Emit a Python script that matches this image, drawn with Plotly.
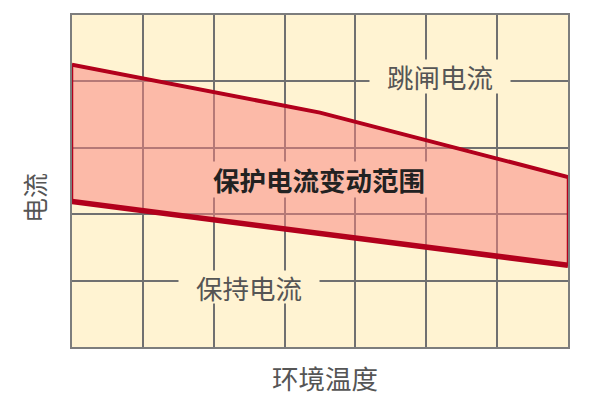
import plotly.graph_objects as go

# data (x: ambient temperature units, y: current units)
upper_x = [0, 3.5, 7]
upper_y = [4.25, 3.53, 2.56]
lower_x = [0, 7]
lower_y = [2.19, 1.23]

label_trip = "跳闸电流"
label_hold = "保持电流"
label_range = "保护电流变动范围"
x_title = "环境温度"
y_title = "电流"

RED = "rgb(178,0,28)"
CREAM = "rgb(255,243,210)"
PINK = "rgb(252,186,168)"
FONT = "Noto Sans CJK SC"

fig = go.Figure()

poly_x = upper_x + lower_x[::-1] + [upper_x[0]]
poly_y = upper_y + lower_y[::-1] + [upper_y[0]]
fig.add_trace(go.Scatter(x=poly_x, y=poly_y, mode="lines", fill="toself",
                         fillcolor="rgba(249,129,126,0.5)",
                         line=dict(color=RED, width=2.5), hoverinfo="skip"))
fig.add_trace(go.Scatter(x=upper_x, y=upper_y, mode="lines",
                         line=dict(color=RED, width=4), hoverinfo="skip"))
fig.add_trace(go.Scatter(x=lower_x, y=lower_y, mode="lines",
                         line=dict(color=RED, width=5.5), hoverinfo="skip"))

fig.update_layout(
    width=592, height=392,
    margin=dict(l=64, r=32, t=5, b=53),
    paper_bgcolor="white", plot_bgcolor=CREAM,
    showlegend=False,
    font=dict(family=FONT),
)
axis_common = dict(showticklabels=False, ticks="", zeroline=False,
                   showgrid=True, gridcolor="rgb(112,112,112)", gridwidth=1.5,
                   showline=True, linecolor="rgb(125,125,125)", linewidth=2,
                   mirror=True, layer="below traces", dtick=1, tick0=0)
fig.update_xaxes(range=[0, 7], **axis_common)
fig.update_yaxes(range=[0, 5], **axis_common)

fig.add_annotation(x=5.2, y=4.07, xref="x", yref="y", text=label_trip,
                   showarrow=False, bgcolor=CREAM, width=140, height=33, borderpad=0,
                   font=dict(size=26.5, color="rgb(85,85,85)", family=FONT))
fig.add_annotation(x=2.5, y=0.91, xref="x", yref="y", text=label_hold,
                   showarrow=False, bgcolor=CREAM, width=140, height=32, borderpad=0,
                   font=dict(size=26.5, color="rgb(85,85,85)", family=FONT))
fig.add_annotation(x=3.48, y=2.53, xref="x", yref="y", text="<b>" + label_range + "</b>",
                   showarrow=False, bgcolor=PINK, width=250, height=35, borderpad=0,
                   font=dict(size=26.5, color="rgb(34,34,34)", family=FONT))
fig.add_annotation(x=0.511, y=0, xref="paper", yref="paper", text=x_title,
                   showarrow=False, yanchor="middle", yshift=-30,
                   font=dict(size=26.5, color="rgb(85,85,85)", family=FONT))
fig.add_annotation(x=0, y=0.449, xref="paper", yref="paper", text=y_title,
                   showarrow=False, textangle=-90, xanchor="center", xshift=-38,
                   font=dict(size=25, color="rgb(85,85,85)", family=FONT))

fig.write_html("out.html")
